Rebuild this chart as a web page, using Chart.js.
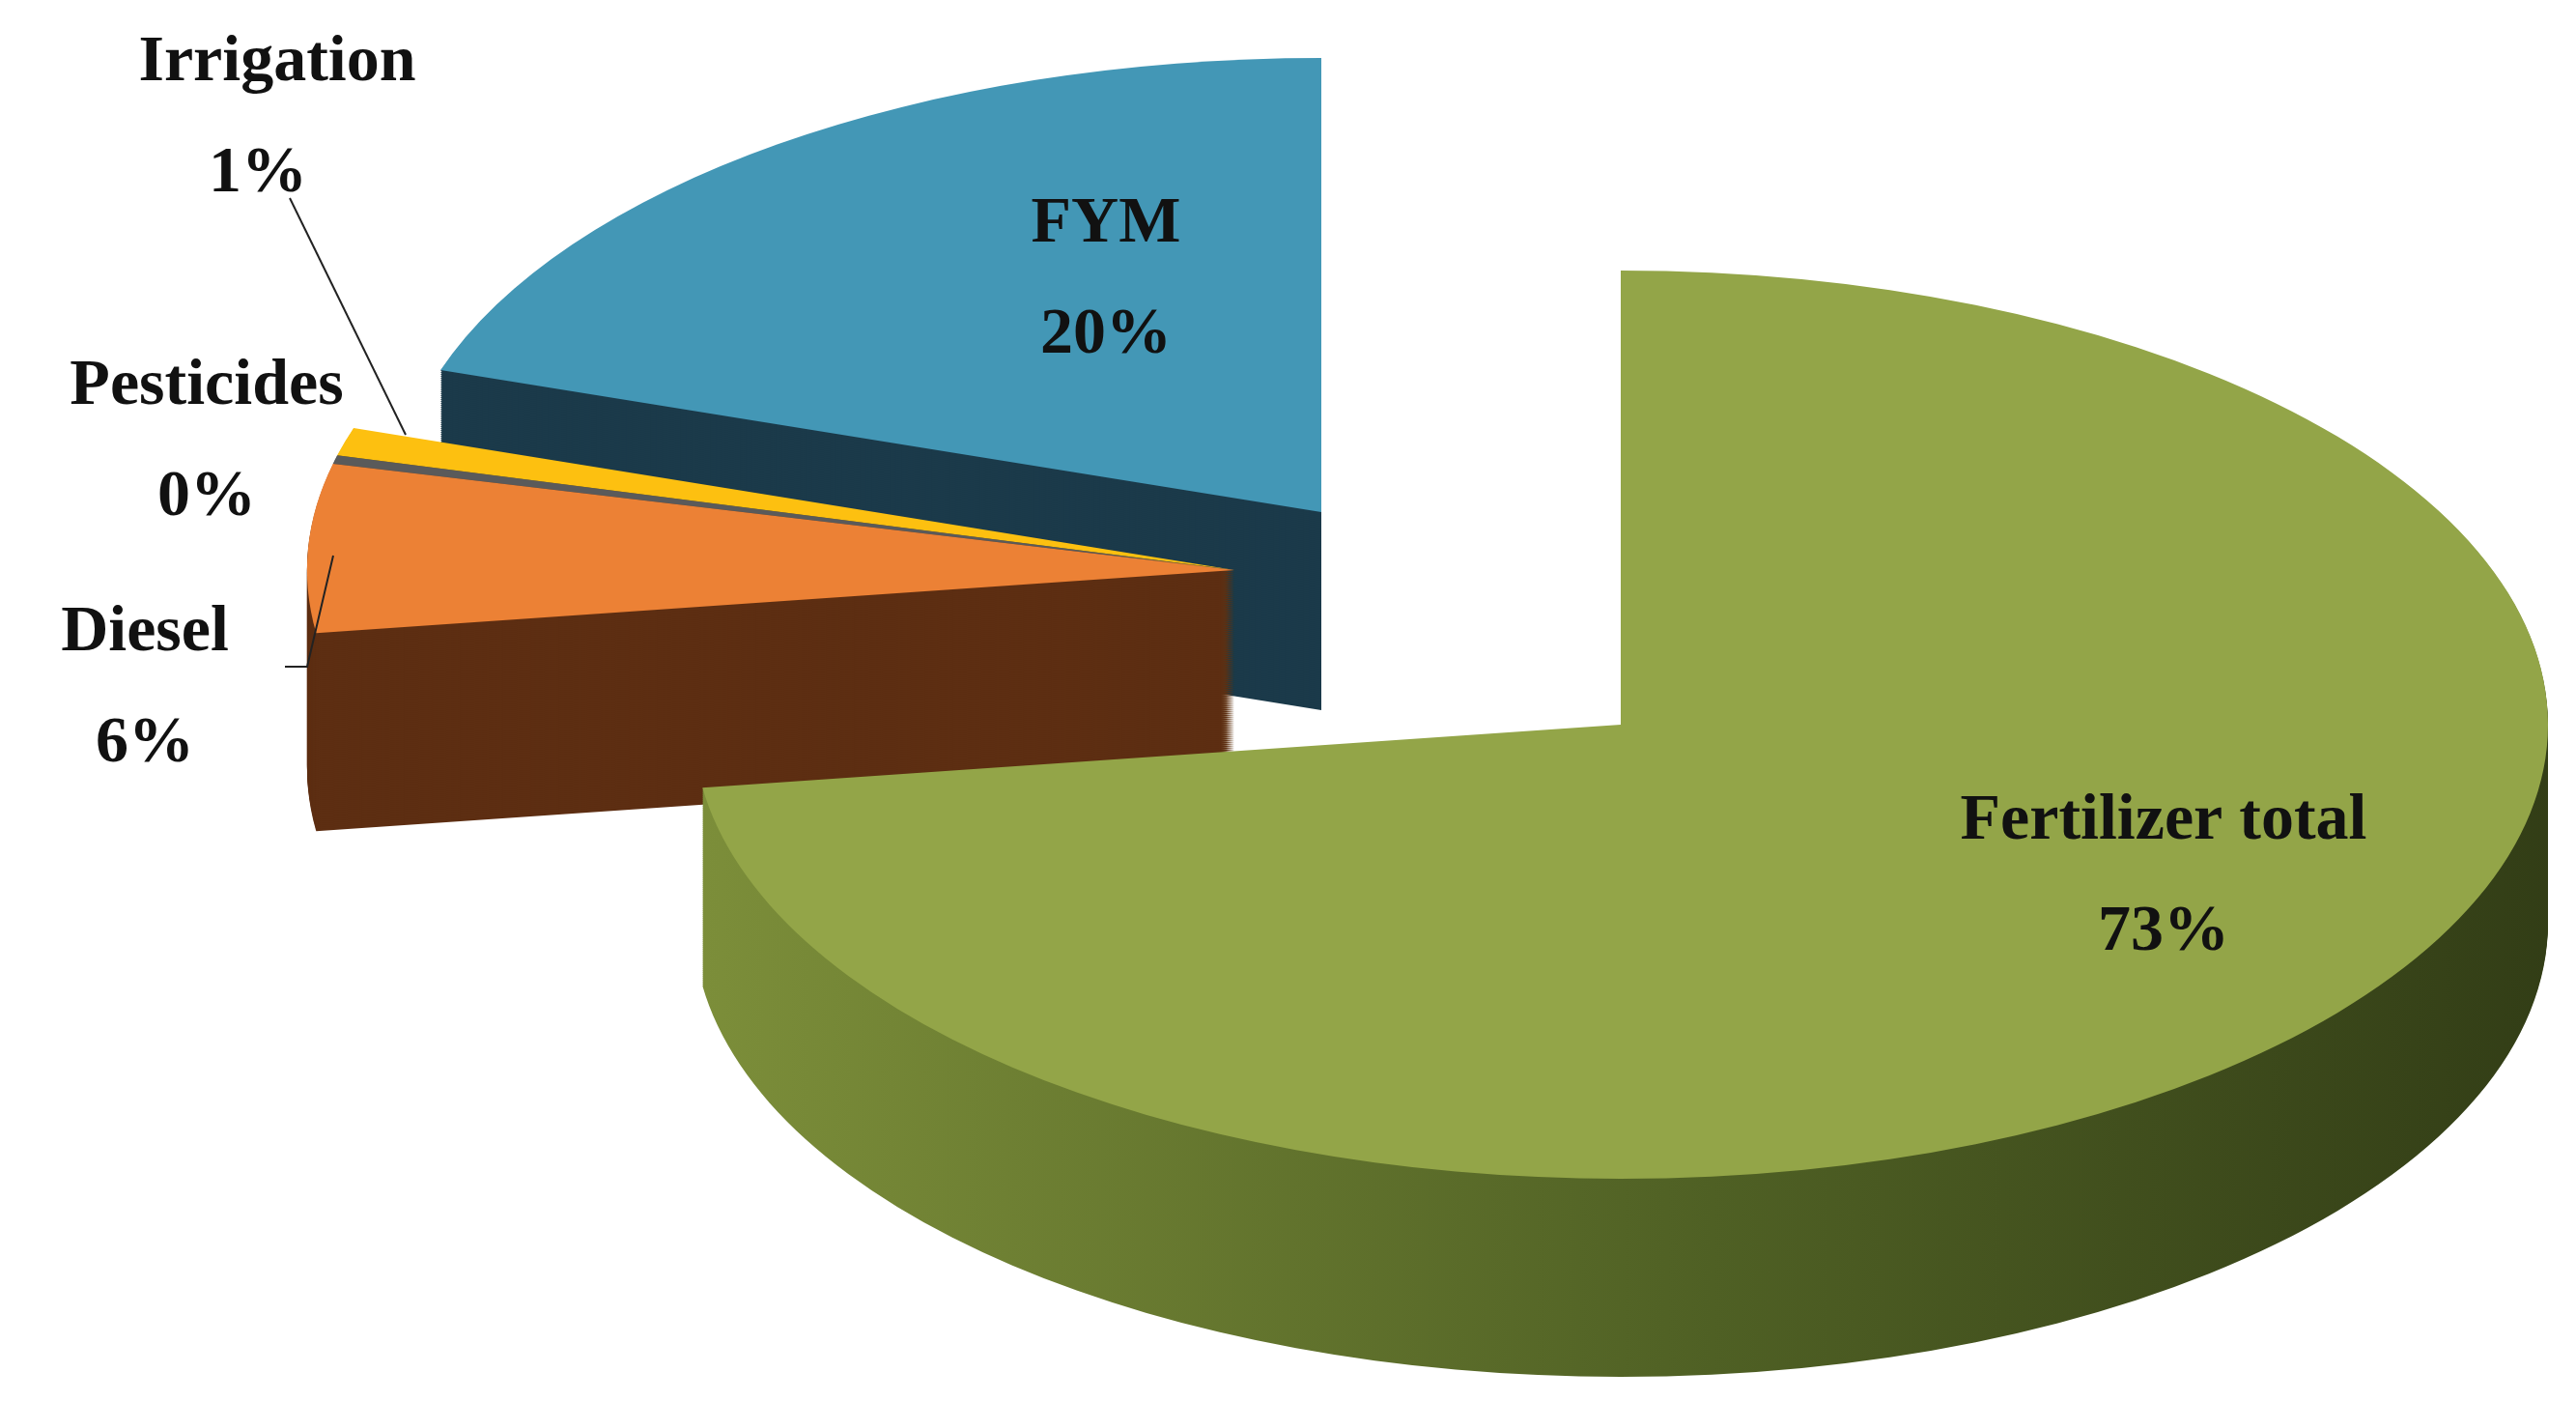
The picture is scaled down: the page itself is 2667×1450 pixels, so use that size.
<!DOCTYPE html>
<html><head><meta charset="utf-8">
<script src="https://cdn.jsdelivr.net/npm/chart.js@4"></script>
<style>html,body{margin:0;padding:0;background:#fff}#w{width:2667px;height:1450px}</style>
</head><body><div id="w"><canvas id="c"></canvas></div>
<script>
const categories = ["Fertilizer total","Diesel","Pesticides","Irrigation","FYM"];
const values = [73, 6, 0.3, 1, 20];
const percentLabels = ["73%","6%","0%","1%","20%"];
const topColors = ["#93a548","#ec8135","#5a5a5a","#fdc010","#4397b6"];
const sideColors = ["#55662a","#5d2e12","#333333","#8a6a00","#1b3a4a"];

const pie3d = {
  id: 'pie3d',
  beforeDatasetsDraw(chart) {
    const ctx = chart.ctx;
    const arcs = chart.getDatasetMeta(0).data;
    const R = arcs[0].outerRadius;
    const Sx = 960 / R, Sy = 470 / R, depth = 205;
    const T = {x: 1278, y: 590};
    const shifts = [{x: 400, y: 160}, {x:0,y:0},{x:0,y:0},{x:0,y:0},{x:90,y:-60}];
    const path = (a, i, dy) => {
      ctx.save();
      ctx.translate(T.x + shifts[i].x, T.y + shifts[i].y + dy);
      ctx.scale(Sx, Sy);
      ctx.translate(-a.x, -a.y);
      ctx.beginPath();
      ctx.moveTo(a.x, a.y);
      ctx.arc(a.x, a.y, a.outerRadius, a.startAngle, a.endAngle);
      ctx.closePath();
      ctx.restore();
    };
    const drawSlice = (i) => {
      const a = arcs[i];
      let side = sideColors[i];
      if (i === 0) {
        const g = ctx.createLinearGradient(700, 0, 2650, 0);
        g.addColorStop(0, '#7d8f3a'); g.addColorStop(0.55, '#4f6024'); g.addColorStop(1, '#323d16');
        side = g;
      }
      for (let d = depth; d > 0; d -= 2) { path(a, i, d); ctx.fillStyle = side; ctx.fill(); }
      path(a, i, 0); ctx.fillStyle = topColors[i]; ctx.fill();
    };
    [4, 3, 2, 1].forEach(drawSlice);
    drawSlice(0);
    return false;
  },
  afterDraw(chart) {
    const ctx = chart.ctx;
    ctx.save();
    ctx.fillStyle = '#111'; ctx.strokeStyle = '#222'; ctx.lineWidth = 2;
    ctx.beginPath(); ctx.moveTo(300, 205); ctx.lineTo(420, 450); ctx.stroke();
    ctx.beginPath(); ctx.moveTo(295, 690); ctx.lineTo(318, 690); ctx.lineTo(345, 575); ctx.stroke();
    ctx.font = 'bold 68px "Liberation Serif"';
    ctx.textAlign = 'center'; ctx.textBaseline = 'middle';
    const pos = [[2240, 850], [150, 655], [214, 400], [287, 65], [1145, 232]];
    pos.forEach((p, i) => {
      ctx.fillText(categories[i], p[0], p[1]);
      ctx.fillText(percentLabels[i], p[0] + (i===3 ? -20 : 0), p[1] + 115);
    });
    ctx.restore();
  }
};

new Chart(document.getElementById('c'), {
  type: 'pie',
  data: { labels: categories, datasets: [{ data: values, backgroundColor: topColors, borderWidth: 0 }] },
  options: {
    responsive: true, maintainAspectRatio: false, animation: false,
    plugins: { legend: { display: false }, tooltip: { enabled: false } }
  },
  plugins: [pie3d]
});
</script></body></html>
